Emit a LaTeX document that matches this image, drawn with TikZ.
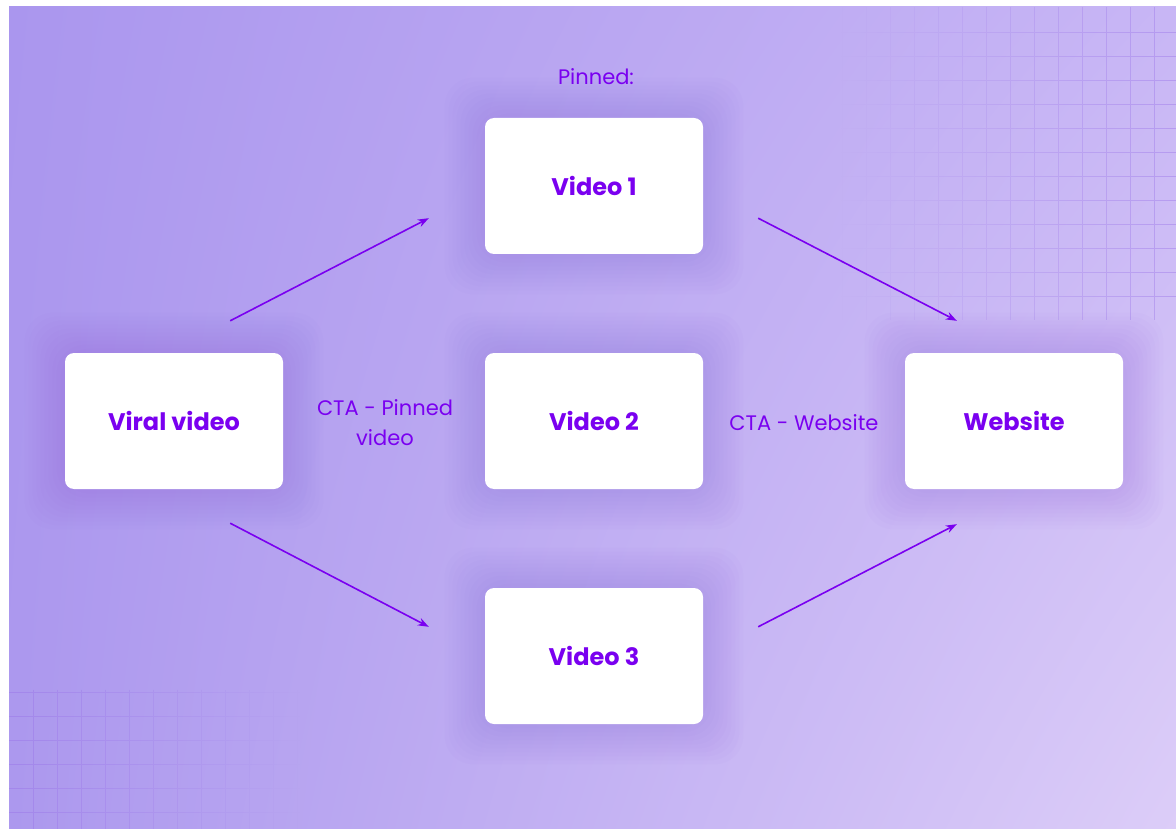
\documentclass[tikz,border=0pt]{standalone}
\usepackage{fontspec}
\setmainfont{Poppins}
\usetikzlibrary{arrows.meta,fadings,shadings}
\definecolor{ink}{RGB}{122,0,240}
\definecolor{bgTL}{RGB}{170,150,238}
\definecolor{bgTR}{RGB}{200,182,245}
\definecolor{bgBL}{RGB}{172,152,238}
\definecolor{bgBR}{RGB}{220,205,248}
\definecolor{glow}{RGB}{130,85,225}
\definecolor{gridc}{RGB}{150,110,232}
\tikzfading[name=fadeTR, left color=transparent!100, right color=transparent!0]
\tikzfading[name=fadeBL, left color=transparent!0, right color=transparent!100]
\pgfdeclarelayer{backdrop}
\pgfdeclarelayer{haze}
\pgfsetlayers{backdrop,haze,main}
\tikzset{
  card/.style={rectangle, rounded corners=9pt, fill=white, minimum width=218pt,
    minimum height=136pt, text=ink, font=\fontsize{24}{28}\selectfont\bfseries},
  note/.style={text=ink, font=\fontsize{21}{30}\selectfont, align=center},
  flow/.style={->, draw=ink, line width=1.6pt},
  gridline/.style={draw=gridc, line width=0.8pt, opacity=0.4},
  hazeband/.style={fill=glow, opacity=0.022, rounded corners=28pt},
}
\begin{document}
\begin{tikzpicture}[x=1pt, y=-1pt, >={Stealth[length=11pt,width=8pt]}]
        \useasboundingbox (0,0) rectangle (1176,829);
        \begin{pgfonlayer}{backdrop}
        \fill[white] (0,0) rectangle (1176,829);
        \shade[upper left=bgTL, upper right=bgTR, lower left=bgBL, lower right=bgBR] (9,7) rectangle (1176,829);
        % grid, top right and bottom left
        \draw[gridline, path fading=fadeTR] \foreach \gx in {842,866,...,1170} {(\gx,7) -- (\gx,320)}
              \foreach \gy in {32,56,...,310} {(840,\gy) -- (1176,\gy)};
        \draw[gridline, path fading=fadeBL] \foreach \gx in {33,57,...,300} {(\gx,690) -- (\gx,829)}
              \foreach \gy in {692,716,...,820} {(9,\gy) -- (300,\gy)};
        \end{pgfonlayer}
        % cards
        \node[card] (viral) at (174,421) {Viral video};
        \node[card] (v1) at (594,186) {Video 1};
        \node[card] (v2) at (594,421) {Video 2};
        \node[card] (v3) at (594,656) {Video 3};
        \node[card] (web) at (1014,421) {Website};
        \begin{pgfonlayer}{haze}
        \foreach \n in {viral,v1,v2,v3,web}
          \foreach \k in {4,8,...,40}
            \fill[hazeband] ([shift={(-\k,-\k)}]\n.north west) rectangle ([shift={(\k,\k)}]\n.south east);
        \end{pgfonlayer}
        % labels
        \node[note] (pinned) at (596,77) {Pinned:};
        \node[note] (ctapin) at (385,423) {CTA - Pinned\\video};
        \node[note] (ctaweb) at (804,423) {CTA - Website};
        % arrows
        \draw[flow] ([shift={(-53,-32)}]viral.north east) -- ([shift={(-56,-36)}]v1.south west);
        \draw[flow] ([shift={(55,-36)}]v1.south east) -- ([shift={(52,-32)}]web.north west);
        \draw[flow] ([shift={(-53,34)}]viral.south east) -- ([shift={(-56,39)}]v3.north west);
        \draw[flow] ([shift={(55,39)}]v3.north east) -- ([shift={(52,35)}]web.south west);
    \end{tikzpicture}
\end{document}
